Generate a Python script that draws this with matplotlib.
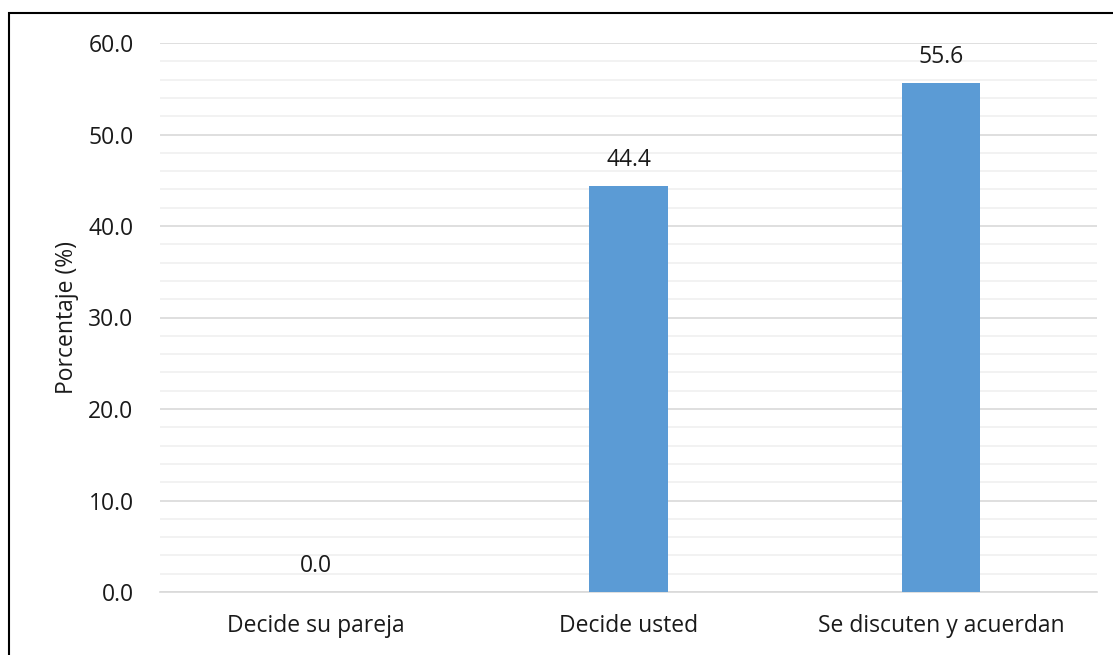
import matplotlib
matplotlib.use("Agg")
import matplotlib.pyplot as plt
from matplotlib.patches import Rectangle
from matplotlib.ticker import MultipleLocator

categories = ["Decide su pareja", "Decide usted", "Se discuten y acuerdan"]
values = [0.0, 44.4, 55.6]

plt.rcParams['font.family'] = ['Open Sans', 'DejaVu Sans']
W, H = 1113, 655
fs = 16.5
txt = "#1a1a1a"
fig = plt.figure(figsize=(W / 100, H / 100), dpi=100)
ax = fig.add_axes([160 / W, 1 - 592 / H, (1097 - 160) / W, (592 - 43) / H])

x = range(len(categories))
ax.bar(x, values, width=0.25, color="#5b9bd5", zorder=3)
for xi, v in zip(x, values):
    ax.annotate(f"{v:.1f}", (xi, v), xytext=(0, 10), textcoords="offset points",
                ha="center", va="bottom", fontsize=fs, color=txt)

ax.set_xlim(-0.5, 2.5)
ax.set_ylim(0, 60)
ax.yaxis.set_minor_locator(MultipleLocator(2))
ax.set_yticks(range(0, 61, 10))
ax.set_yticklabels([f"{t:.1f}" for t in range(0, 61, 10)])
ax.grid(axis="y", which="major", color="#d9d9d9", linewidth=1.2, zorder=0)
ax.grid(axis="y", which="minor", color="#f0f0f0", linewidth=1.2, zorder=0)
ax.set_xticks(list(x))
ax.set_xticklabels(categories)
ax.tick_params(axis="both", which="both", length=0, labelsize=fs, colors=txt)
ax.tick_params(axis="y", pad=19)
ax.tick_params(axis="x", pad=16)
for s in ["top", "right", "left"]:
    ax.spines[s].set_visible(False)
ax.spines["bottom"].set_color("#d9d9d9")
ax.spines["bottom"].set_linewidth(1.2)
ax.set_ylabel("Porcentaje (%)", fontsize=fs, color=txt)
ax.yaxis.set_label_coords(-(160 - 79) / (1097 - 160), 0.5)

fig.patches.append(Rectangle((9 / W, -0.1), 1.2, 1 - 13 / H + 0.1,
                             transform=fig.transFigure, fill=False,
                             edgecolor="black", linewidth=1.5))

fig.savefig("out.png", dpi=100)
